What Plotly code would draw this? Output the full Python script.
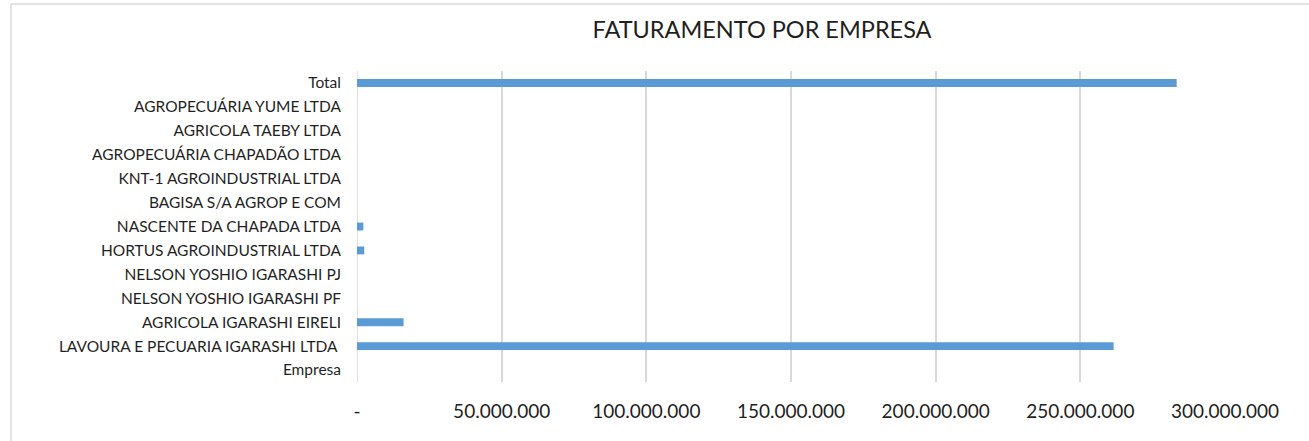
import plotly.graph_objects as go

categories = [
    "Empresa",
    "LAVOURA E PECUARIA IGARASHI LTDA ",
    "AGRICOLA IGARASHI EIRELI",
    "NELSON YOSHIO IGARASHI PF",
    "NELSON YOSHIO IGARASHI PJ",
    "HORTUS AGROINDUSTRIAL LTDA",
    "NASCENTE DA CHAPADA LTDA",
    "BAGISA S/A AGROP E COM",
    "KNT-1 AGROINDUSTRIAL LTDA",
    "AGROPECUÁRIA CHAPADÃO LTDA",
    "AGRICOLA TAEBY LTDA",
    "AGROPECUÁRIA YUME LTDA",
    "Total",
]
faturamento = [
    None,
    261_500_000,
    16_100_000,
    0,
    0,
    2_500_000,
    2_200_000,
    0,
    0,
    0,
    0,
    0,
    283_300_000,
]
tick_values = [0, 50_000_000, 100_000_000, 150_000_000, 200_000_000, 250_000_000, 300_000_000]
tick_labels = ["-", "50.000.000", "100.000.000", "150.000.000", "200.000.000", "250.000.000", "300.000.000"]

W, H = 1309, 441
ML, MR, MT, MB = 357, 84, 71, 59
pw = W - ML - MR
ph = H - MT - MB

fig = go.Figure(go.Bar(
    x=faturamento,
    y=categories,
    orientation="h",
    marker=dict(color="#5B9BD5", line=dict(width=0)),
    width=0.33,
))

FONT = "Lato, 'Open Sans', sans-serif"

fig.update_layout(
    width=W, height=H,
    margin=dict(l=ML, r=MR, t=MT, b=MB),
    paper_bgcolor="white",
    plot_bgcolor="white",
    showlegend=False,
    title=dict(
        text="FATURAMENTO POR EMPRESA",
        x=762 / W, xref="container", xanchor="center",
        y=1 - 30 / H, yref="container", yanchor="middle",
        font=dict(family=FONT, size=23.5, color="#1f1f1f"),
    ),
    xaxis=dict(
        range=[0, 300_000_000],
        tickvals=tick_values,
        ticktext=tick_labels,
        showgrid=True,
        gridcolor="#d9d9d9",
        gridwidth=1.5,
        zeroline=False,
        showline=False,
        ticks="",
        ticklabelstandoff=16,
        tickfont=dict(family=FONT, size=19, color="#1f1f1f"),
        fixedrange=True,
    ),
    yaxis=dict(
        type="category",
        categoryorder="array",
        categoryarray=categories,
        showgrid=False,
        zeroline=False,
        showline=False,
        ticks="",
        ticklabelstandoff=15,
        tickfont=dict(family=FONT, size=15.5, color="#1f1f1f"),
        fixedrange=True,
    ),
    shapes=[
        dict(type="line", xref="paper", yref="paper",
             x0=(11 - ML) / pw, x1=(11 - ML) / pw,
             y0=(H - MB - 441) / ph, y1=(H - MB - 4) / ph,
             line=dict(color="#d9d9d9", width=1.5)),
        dict(type="line", xref="paper", yref="paper",
             x0=(11 - ML) / pw, x1=(1309 - ML) / pw,
             y0=(H - MB - 4) / ph, y1=(H - MB - 4) / ph,
             line=dict(color="#d9d9d9", width=1.5)),
    ],
)
# zero-axis line along the value 0
fig.add_vline(x=0, line=dict(color="#d9d9d9", width=1.5), layer="below")

fig.write_html(
    "out.html",
    config={"displayModeBar": False},
    post_script="document.body.style.margin='0';document.body.style.padding='0';",
)
